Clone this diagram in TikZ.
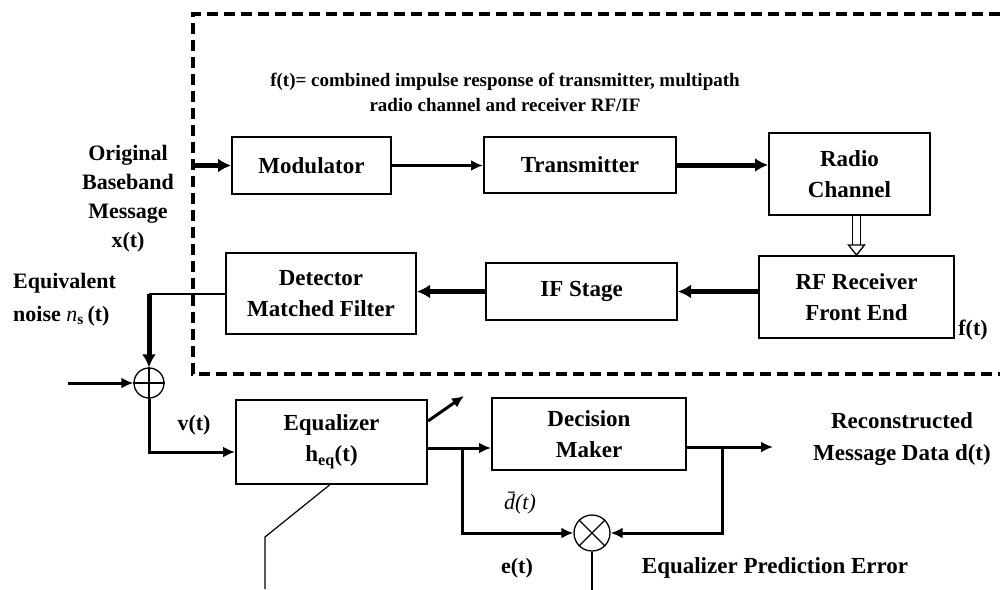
\documentclass[tikz,border=0pt]{standalone}
\usepackage{fontspec}
\setmainfont{Liberation Serif}
\usetikzlibrary{arrows.meta,calc}
\begin{document}
\begin{tikzpicture}[x=1pt,y=-1pt,
  blk/.style={draw,line width=2pt,inner sep=0pt,align=center,font=\fontsize{23}{31}\selectfont\bfseries},
  lbl/.style={inner sep=0pt,align=center,font=\fontsize{22}{29}\selectfont\bfseries},
  thk/.style={line width=5pt,-{Latex[length=13pt,width=14pt]}},
  med/.style={line width=3pt,-{Latex[length=12pt,width=11pt]}},
  thn/.style={line width=2pt},
  junc/.style={draw,circle,line width=1.3pt,inner sep=0pt},
  ]
\useasboundingbox (0,0) rectangle (1000,589);
% frame
\draw[line width=3.5pt,dash pattern=on 11pt off 6pt] (1000,14) -- (193,14) -- (193,374) -- (1000,374);
% blocks
\node[blk,minimum width=159pt,minimum height=57pt] (mod) at (311.5,165.5) {Modulator};
\node[blk,minimum width=192pt,minimum height=56pt] (tx) at (580,165) {Transmitter};
\node[blk,minimum width=161pt,minimum height=82pt] (rc) at (849.5,174) {Radio\\Channel};
\node[blk,minimum width=195pt,minimum height=82pt] (rf) at (856.5,297) {RF Receiver\\Front End};
\node[blk,minimum width=191pt,minimum height=57pt] (ifs) at (581.5,291.5) {IF Stage};
\node[blk,minimum width=190pt,minimum height=81pt] (det) at (321,293.5) {Detector\\Matched Filter};
\node[blk,minimum width=191pt,minimum height=84pt] (eq) at (331.5,442) {Equalizer\\h\textsubscript{eq}(t)};
\node[blk,minimum width=194pt,minimum height=72pt] (dec) at (589,434) {Decision\\Maker};
\node[junc,minimum size=30pt] (sum) at (149,383) {};
\node[junc,minimum size=36pt] (mul) at (592,533) {};
\draw[line width=1.3pt] (sum.north) -- (sum.south) (sum.west) -- (sum.east);
\draw[line width=1.3pt] (mul.north west) -- (mul.south east) (mul.north east) -- (mul.south west);
% labels
\node[inner sep=0pt,align=center,font=\fontsize{19}{25}\selectfont\bfseries] (cap) at (505,92) {f(t)= combined impulse response of transmitter, multipath\\radio channel and receiver RF/IF};
\node[lbl] (orig) at (128,199) {Original\\Baseband\\Message\\x(t)};
\node[lbl,align=left,anchor=west,font=\fontsize{22}{33}\selectfont\bfseries] (eqn) at (13,300) {Equivalent\\noise {\mdseries\itshape n}\textsubscript{s}\,(t)};
\node[lbl] (vt) at (194,425) {v(t)};
\node[lbl] (ft) at (973,330) {f(t)};
\node[lbl,font=\fontsize{23}{32}\selectfont\bfseries] (rec) at (902,439) {Reconstructed\\Message Data d(t)};
\node[inner sep=0pt,font=\fontsize{22}{26}\selectfont\itshape] (db) at (520,503) {\={d}(t)};
\node[lbl] (et) at (517,568) {e(t)};
\node[lbl,font=\fontsize{23}{29}\selectfont\bfseries] (epe) at (775,568) {Equalizer Prediction Error};
% connectors
\coordinate (xin) at (193,165.5);
\draw[thk] (xin) -- (mod.west);
\draw[med] (mod.east) -- (mod.east -| tx.west);
\draw[thk] (tx.east) -- (tx.east -| rc.west);
% double open arrow
\coordinate (dd) at (rc.south -| rf.north);
\draw[line width=1.3pt] ($(dd)+(-4,0)$) -- ($(dd)+(-4,29)$) ($(dd)+(4,0)$) -- ($(dd)+(4,29)$);
\draw[line width=1.3pt,fill=white] ($(dd)+(-8,29)$) -- ($(dd)+(8,29)$) -- (rf.north) -- cycle;
\draw[thk] (rf.west |- ifs.east) -- (ifs.east);
\draw[thk] (ifs.west) -- (ifs.west -| det.east);
\draw[thn] (det.west) -- (det.west -| sum.north) coordinate (dk);
\draw[thk] (dk) -- (sum.north);
\coordinate (nin) at (68,383);
\draw[med] (nin) -- (sum.west);
\draw[med] (sum.south) |- ($(eq.west)+(0,10)$);
\draw[line width=3pt,-{Latex[length=12pt,width=11pt]}] ($(eq.north east)+(0,22)$) -- ++(36,-25);
\coordinate (eo) at ($(eq.east)+(0,6)$);
\draw[med] (eo) -- (eo -| dec.west);
\coordinate (br1) at ($(eo)+(34,0)$);
\draw[med] (br1) |- (mul.west);
\coordinate (do) at ($(dec.east)+(0,13)$);
\draw[med] (do) -- ++(86,0);
\coordinate (br2) at ($(do)+(35,0)$);
\draw[med] (br2) |- (mul.east);
\draw[thn] (mul.south) -- ++(0,40);
\coordinate (ek) at (265,537);
\draw[line width=1.2pt] ($(eq.south)+(-2,0)$) -- (ek) -- ++(0,52);
\end{tikzpicture}
\end{document}
